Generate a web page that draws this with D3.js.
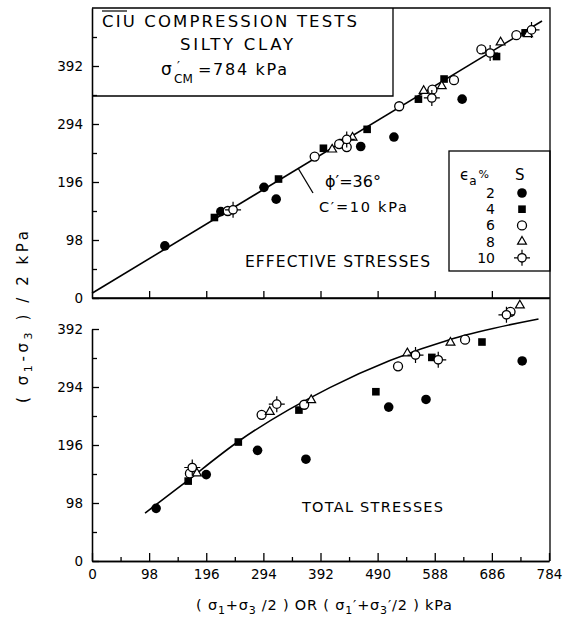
<!DOCTYPE html>
<html>
<head>
<meta charset="utf-8">
<style>
  body { margin: 0; background: white; }
  text { font-family: "DejaVu Sans", sans-serif; fill: black; }
  .frame { fill: none; stroke: black; stroke-width: 1.3; }
  .fit { fill: none; stroke: black; stroke-width: 1.6; }
  .axis path, .axis line { stroke: black; stroke-width: 1.3; }
  .axis text { font-size: 13.5px; font-family: "DejaVu Sans", sans-serif; }
</style>
</head>
<body>
<svg width="567" height="633"></svg>

<script src="https://cdn.jsdelivr.net/npm/d3@7"></script>
<script>
// [p, q] pairs in kPa
// effective stresses (top panel)
const eff2 = [[125, 88], [221, 146], [295, 187], [316, 167], [461, 256], [518, 272], [635, 336]];
const eff4 = [[210, 136], [320, 201], [397, 253], [472, 285], [560, 336], [604, 370], [694, 408], [743, 448]];
const eff6 = [[233, 147], [382, 239], [424, 260], [437, 255], [527, 324], [584, 352], [621, 368], [668, 420], [728, 444]];
const eff8 = [[412, 251], [447, 271], [569, 350], [600, 358], [701, 432], [748, 446]];
const eff10 = [[242, 149], [437, 268], [583, 338], [683, 414], [754, 453]];

// total stresses (bottom panel)
const tot2 = [[110, 89], [196, 146], [284, 187], [367, 172], [509, 260], [573, 273], [738, 338]];
const tot4 = [[165, 135], [251, 201], [355, 255], [487, 286], [583, 344], [669, 370]];
const tot6 = [[168, 148], [291, 247], [364, 264], [525, 329], [640, 374], [718, 421]];
const tot8 = [[180, 148], [305, 252], [376, 272], [541, 351], [615, 369], [734, 432]];
const tot10 = [[172, 158], [317, 265], [555, 348], [594, 340], [711, 416]];

// fitted lines
const effFitP = [0, 772];
const effFitQ = [8, 468];
const totFitP = [91, 151, 254, 408, 620, 766];
const totFitQ = [81, 126, 204, 293, 376, 409];

const strains = ["2", "4", "6", "8", "10"];
const majorTicks = [0, 98, 196, 294, 392, 490, 588, 686, 784];
const minorTicks = [49, 147, 245, 343, 441, 539, 637, 735];
const yTopMajor = [0, 98, 196, 294, 392];
const yTopMinor = [49, 147, 245, 343, 441];
const yBotMajor = [0, 98, 196, 294, 392];
const yBotMinor = [49, 147, 245, 343];

const svg = d3.select("svg");

const x = d3.scaleLinear().domain([0, 784]).range([92, 549]);
const yTop = d3.scaleLinear().domain([0, 490]).range([298, 8]);
const yBot = d3.scaleLinear().domain([0, 392]).range([561, 329]);

// frame
svg.append("path").attr("class", "frame")
	.attr("d", "M92,8 H550 V561 M92,298 H550");
svg.append("path").attr("class", "frame")
	.attr("d", "M92,96 H393 V8");

// left axes
svg.append("g").attr("class", "axis").attr("transform", "translate(92,0)")
	.call(d3.axisLeft(yTop).tickValues(yTopMajor).tickSize(-7).tickSizeOuter(0).tickPadding(9));
svg.append("g").attr("class", "axis").attr("transform", "translate(92,0)")
	.call(d3.axisLeft(yTop).tickValues(yTopMinor).tickSize(-5).tickSizeOuter(0).tickFormat(""));
svg.append("g").attr("class", "axis").attr("transform", "translate(92,0)")
	.call(d3.axisLeft(yBot).tickValues(yBotMajor).tickSize(-7).tickSizeOuter(0).tickPadding(9));
svg.append("g").attr("class", "axis").attr("transform", "translate(92,0)")
	.call(d3.axisLeft(yBot).tickValues(yBotMinor).tickSize(-5).tickSizeOuter(0).tickFormat(""));

// top panel x ticks (no labels)
svg.append("g").attr("class", "axis").attr("transform", "translate(0,298)")
	.call(d3.axisBottom(x).tickValues(majorTicks.slice(1, -1)).tickSize(-7).tickSizeOuter(0).tickFormat(""));

// bottom x axis
svg.append("g").attr("class", "axis").attr("transform", "translate(0,561)")
	.call(d3.axisBottom(x).tickValues(majorTicks).tickSize(-8).tickSizeOuter(0).tickPadding(8));
svg.append("g").attr("class", "axis").attr("transform", "translate(0,561)")
	.call(d3.axisBottom(x).tickValues(minorTicks).tickSize(-4).tickSizeOuter(0).tickFormat(""));

// fitted lines
svg.append("path").attr("class", "fit")
	.attr("d", d3.line().x(d => x(d[0])).y(d => yTop(d[1]))(d3.zip(effFitP, effFitQ)));
svg.append("path").attr("class", "fit")
	.attr("d", d3.line().curve(d3.curveMonotoneX).x(d => x(d[0])).y(d => yBot(d[1]))(d3.zip(totFitP, totFitQ)));

// markers
function shape(g, s) {
	if (s === "2") {
		g.append("circle").attr("r", 4.8).attr("fill", "black");
	} else if (s === "4") {
		g.append("rect").attr("x", -3.8).attr("y", -3.8).attr("width", 7.6).attr("height", 7.6).attr("fill", "black");
	} else if (s === "6") {
		g.append("circle").attr("r", 4.5).attr("fill", "white").attr("stroke", "black").attr("stroke-width", 1.3);
	} else if (s === "8") {
		g.append("path").attr("d", d3.symbol(d3.symbolTriangle, 34)())
			.attr("fill", "white").attr("stroke", "black").attr("stroke-width", 1.2);
	} else {
		g.append("path").attr("d", "M-8,0H-4M4,0H8M0,-8V-4M0,4V8")
			.attr("stroke", "black").attr("stroke-width", 1.2);
		g.append("circle").attr("r", 4.2).attr("fill", "white").attr("stroke", "black").attr("stroke-width", 1.3);
	}
}

function plot(data, s, y) {
	svg.append("g").selectAll("g")
		.data(data)
		.join("g")
			.attr("transform", d => `translate(${x(d[0])},${y(d[1])})`)
			.each(function() { shape(d3.select(this), s); });
}

plot(eff2, "2", yTop); plot(eff4, "4", yTop); plot(eff6, "6", yTop); plot(eff8, "8", yTop); plot(eff10, "10", yTop);
plot(tot2, "2", yBot); plot(tot4, "4", yBot); plot(tot6, "6", yBot); plot(tot8, "8", yBot); plot(tot10, "10", yBot);

// title box
svg.append("text").attr("x", 102).attr("y", 27).attr("font-size", 16.5)
	.attr("textLength", 255).attr("lengthAdjust", "spacing").text("CIU COMPRESSION TESTS");
svg.append("line").attr("x1", 102).attr("x2", 127).attr("y1", 11).attr("y2", 11)
	.attr("stroke", "black").attr("stroke-width", 1.2);
svg.append("text").attr("x", 180).attr("y", 50).attr("font-size", 16.5)
	.attr("textLength", 113).attr("lengthAdjust", "spacing").text("SILTY CLAY");
svg.append("text").attr("x", 161).attr("y", 75).attr("font-size", 17).text("σ");
svg.append("text").attr("x", 177).attr("y", 70).attr("font-size", 13).text("′");
svg.append("text").attr("x", 174).attr("y", 83).attr("font-size", 12).text("CM");
svg.append("text").attr("x", 198).attr("y", 75).attr("font-size", 16)
	.attr("textLength", 89).attr("lengthAdjust", "spacing").text("=784 kPa");

// annotations
svg.append("line").attr("x1", 298).attr("y1", 168).attr("x2", 313).attr("y2", 193)
	.attr("stroke", "black").attr("stroke-width", 1.3);
svg.append("text").attr("x", 325).attr("y", 187).attr("font-size", 16).text("ϕ′=36°");
svg.append("text").attr("x", 319).attr("y", 212).attr("font-size", 14.5)
	.attr("textLength", 88).attr("lengthAdjust", "spacing").text("C′=10 kPa");
svg.append("text").attr("x", 245).attr("y", 267).attr("font-size", 15.5)
	.attr("textLength", 185).attr("lengthAdjust", "spacing").text("EFFECTIVE STRESSES");
svg.append("text").attr("x", 302).attr("y", 512).attr("font-size", 14.5)
	.attr("textLength", 141).attr("lengthAdjust", "spacing").text("TOTAL STRESSES");

// legend
svg.append("rect").attr("class", "frame").attr("x", 449).attr("y", 151).attr("width", 101).attr("height", 120);
const lh = svg.append("text").attr("x", 460).attr("y", 180).attr("font-size", 15);
lh.append("tspan").text("ϵ");
lh.append("tspan").attr("dy", 5).attr("font-size", 12).text("a");
lh.append("tspan").attr("dy", -7).attr("dx", 2).attr("font-size", 11).text("%");
svg.append("text").attr("x", 515).attr("y", 180).attr("font-size", 15).text("S");

strains.forEach((s, i) => {
	const ry = 193 + i * 16.2;
	svg.append("text").attr("x", 495).attr("y", ry + 5).attr("font-size", 14)
		.attr("text-anchor", "end").text(s);
	shape(svg.append("g").attr("transform", `translate(522,${ry})`), s);
});

// axis titles
const xl = svg.append("text").attr("x", 196).attr("y", 610).attr("font-size", 14.5)
	.attr("textLength", 256).attr("lengthAdjust", "spacing");
xl.append("tspan").text("( σ");
xl.append("tspan").attr("font-size", 11).attr("dy", 4).text("1");
xl.append("tspan").attr("dy", -4).text("+σ");
xl.append("tspan").attr("font-size", 11).attr("dy", 4).text("3");
xl.append("tspan").attr("dy", -4).text(" /2 )  OR  ( σ");
xl.append("tspan").attr("font-size", 11).attr("dy", 4).text("1");
xl.append("tspan").attr("dy", -4).text("′+σ");
xl.append("tspan").attr("font-size", 11).attr("dy", 4).text("3");
xl.append("tspan").attr("dy", -4).text("′/2 )  kPa");

const yl = svg.append("text").attr("transform", "translate(28,403) rotate(-90)").attr("font-size", 15)
	.attr("textLength", 172).attr("lengthAdjust", "spacing");
yl.append("tspan").text("( σ");
yl.append("tspan").attr("font-size", 11).attr("dy", 4).text("1");
yl.append("tspan").attr("dy", -4).text("-σ");
yl.append("tspan").attr("font-size", 11).attr("dy", 4).text("3");
yl.append("tspan").attr("dy", -4).text("  )  /  2   kPa");
</script>
</body>
</html>
